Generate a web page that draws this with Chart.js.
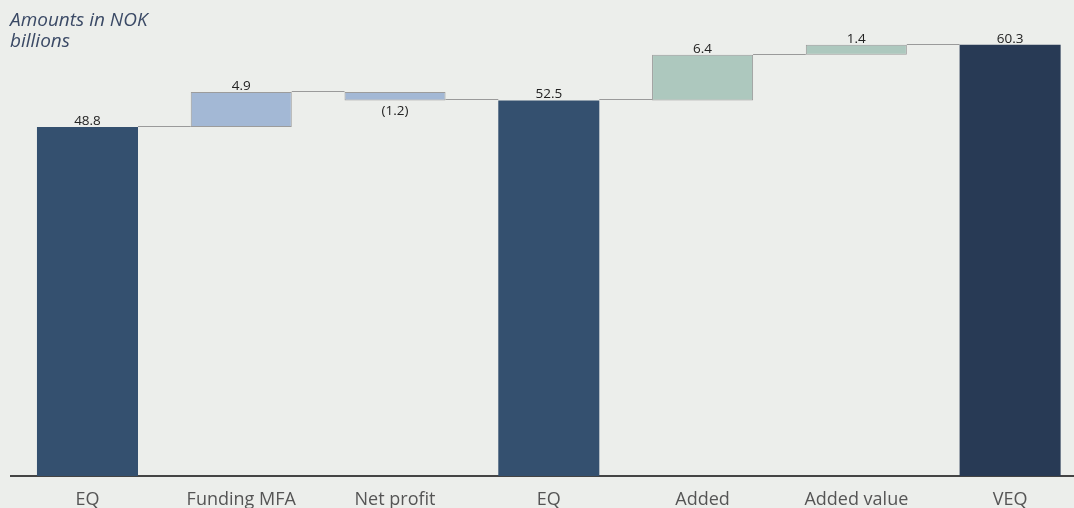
<!DOCTYPE html>
<html>
<head>
<meta charset="utf-8">
<script src="https://cdn.jsdelivr.net/npm/chart.js@4"></script>
<style>
  html, body { margin: 0; padding: 0; background: #ECEEEB; overflow: hidden; }
  #wrap { position: relative; width: 1088px; height: 508px; }
  #note {
    position: absolute; left: 10px; top: 9px;
    font: italic 19px "Open Sans", sans-serif; line-height: 21px;
    color: #3B4A66;
  }
</style>
</head>
<body>
<div id="wrap">
  <canvas id="wf" width="1088" height="508"></canvas>
  <div id="note">Amounts in NOK<br>billions</div>
</div>
<script>
const categories = ['EQ', 'Funding MFA', 'Net profit', 'EQ', 'Added', 'Added value', 'VEQ'];
const values = [48.8, 4.9, -1.2, 52.5, 6.4, 1.4, 60.3];
const kinds = ['total', 'step', 'step', 'total', 'step', 'step', 'total'];
const valueLabels = ['48.8', '4.9', '(1.2)', '52.5', '6.4', '1.4', '60.3'];
const barColors = ['#34506F', '#A3B8D5', '#A3B8D5', '#34506F', '#ADC8BE', '#ADC8BE', '#283A55'];

// build floating ranges and running levels
let running = 0;
const ranges = [];
const levels = [];
values.forEach((v, i) => {
    if (kinds[i] === 'total') {
        running = v;
        ranges.push([0, v]);
    } else {
        ranges.push([running, running + v]);
        running = running + v;
    }
    levels.push(running);
});

// connectors between bars + value labels
const waterfallExtras = {
    id: 'waterfallExtras',
    afterDatasetsDraw(chart) {
        const ctx = chart.ctx;
        const meta = chart.getDatasetMeta(0);
        const y = chart.scales.y;
        ctx.save();
        ctx.strokeStyle = '#9A9A9A';
        ctx.lineWidth = 1;
        for (let i = 0; i < meta.data.length - 1; i++) {
            const a = meta.data[i], b = meta.data[i + 1];
            const py = Math.round(y.getPixelForValue(levels[i])) - 0.5;
            ctx.beginPath();
            ctx.moveTo(a.x + a.width / 2, py);
            ctx.lineTo(b.x - b.width / 2, py);
            ctx.stroke();
        }
        ctx.fillStyle = '#222';
        ctx.font = '13.5px "Open Sans", sans-serif';
        ctx.textAlign = 'center';
        ctx.textBaseline = 'middle';
        meta.data.forEach((bar, i) => {
            const r = ranges[i];
            if (values[i] >= 0) {
                ctx.fillText(valueLabels[i], bar.x, y.getPixelForValue(Math.max(r[0], r[1])) - 6);
            } else {
                ctx.fillText(valueLabels[i], bar.x, y.getPixelForValue(Math.min(r[0], r[1])) + 11);
            }
        });
        ctx.restore();
    }
};

new Chart(document.getElementById('wf'), {
    type: 'bar',
    data: {
        labels: categories,
        datasets: [{
            data: ranges,
            backgroundColor: barColors,
            borderColor: kinds.map(k => k === 'step' ? '#9C9C9C' : 'rgba(0,0,0,0)'),
            borderWidth: kinds.map(k => k === 'step' ? 1 : 0),
            borderSkipped: false,
            barPercentage: 0.657,
            categoryPercentage: 1
        }]
    },
    options: {
        responsive: false,
        animation: false,
        layout: { padding: { left: 10.6, right: 1, top: 0, bottom: 0 } },
        plugins: { legend: { display: false }, tooltip: { enabled: false } },
        scales: {
            x: {
                grid: { display: false, drawTicks: false },
                border: { display: true, color: '#444', width: 2 },
                ticks: { color: '#555', font: { family: 'Open Sans', size: 18 }, padding: 13 },
                afterFit(scale) { scale.height = 32; }
            },
            y: { display: false, min: 0, max: 66.55 }
        }
    },
    plugins: [waterfallExtras]
});
</script>
</body>
</html>
